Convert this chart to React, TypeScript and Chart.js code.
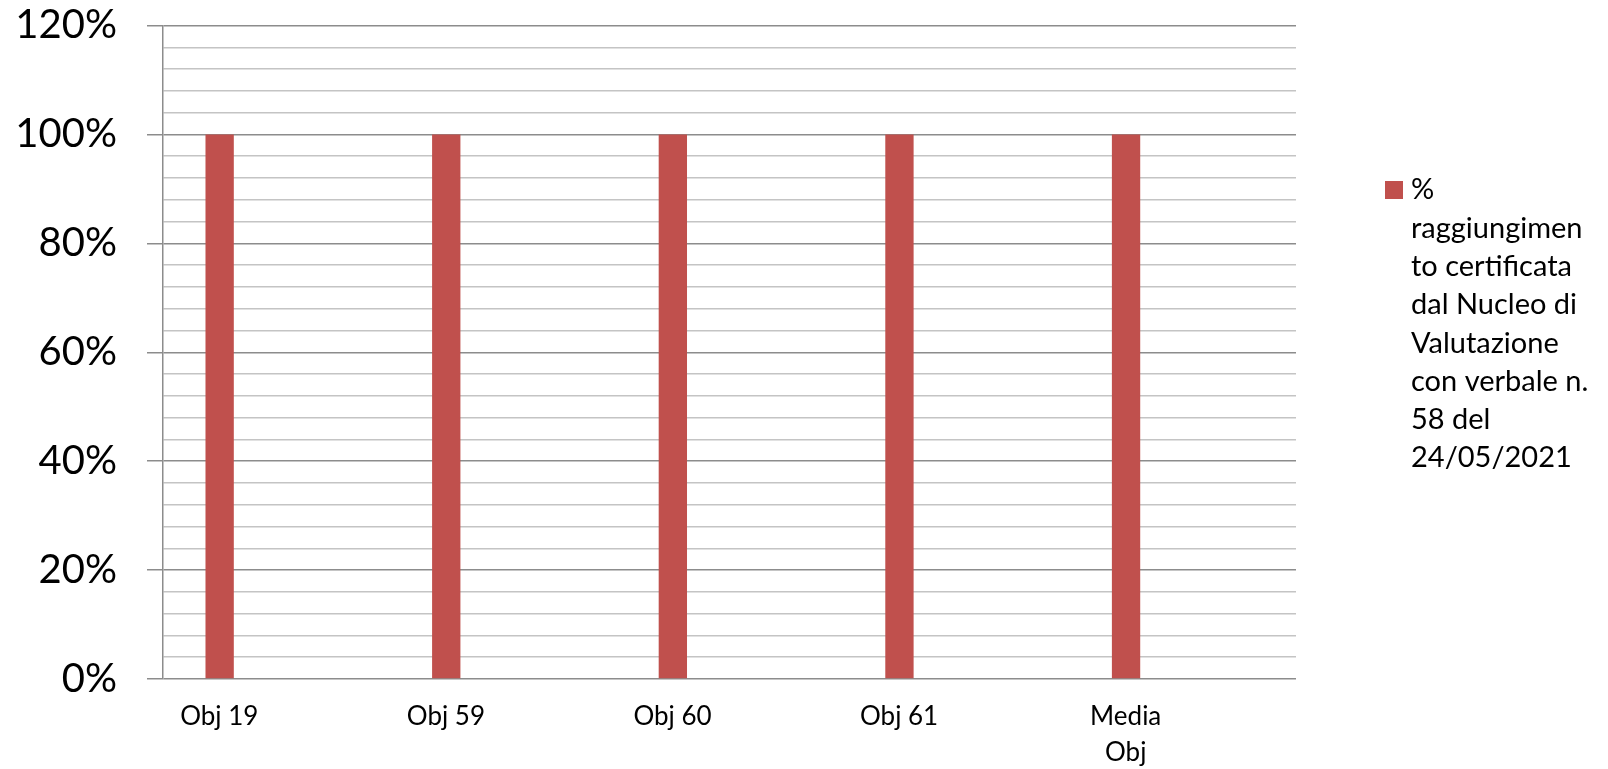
import React, { useEffect, useRef } from 'react';
import { Chart, registerables } from 'chart.js';

Chart.register(...registerables);

// ---- data ----
const categories: (string | string[])[] = ['Obj 19', 'Obj 59', 'Obj 60', 'Obj 61', ['Media', 'Obj']];
const raggiungimento: number[] = [100, 100, 100, 100, 100];
const legendLines: string[] = [
  '%',
  'raggiungimen',
  'to certificata',
  'dal Nucleo di',
  'Valutazione',
  'con verbale n.',
  '58 del',
  '24/05/2021',
];
const yMajorTicks: number[] = [0, 20, 40, 60, 80, 100, 120];
// empty companion series (the chart was built with 5 series per category, only the first filled)
const emptySeries: (number | null)[] = [null, null, null, null, null];

const BAR_COLOR = '#C0504D';
const MAJOR_GRID = '#8c8c8c';
const MINOR_GRID = '#c4c4c4';
const FONT = 'Lato';

const legendPlugin = {
  id: 'sideLegend',
  afterDraw(chart: any) {
    const ctx = chart.ctx as CanvasRenderingContext2D;
    const x = chart.chartArea.right + 89;
    const y0 = 190;
    const lh = 38.3;
    ctx.save();
    ctx.fillStyle = BAR_COLOR;
    ctx.fillRect(x, y0 - 9, 18, 18);
    ctx.fillStyle = '#000';
    ctx.font = `29px ${FONT}`;
    ctx.textBaseline = 'middle';
    ctx.textAlign = 'left';
    legendLines.forEach((line, i) => {
      ctx.fillText(line, x + 26, y0 + i * lh);
    });
    ctx.restore();
  },
};

export default function App() {
  const canvasRef = useRef<HTMLCanvasElement | null>(null);

  useEffect(() => {
    document.body.style.margin = '0';
    let chart: Chart | null = null;
    let cancelled = false;

    const build = () => {
      if (cancelled || !canvasRef.current) return;
      const datasets: any[] = [
        {
          label: legendLines.join(' '),
          data: raggiungimento,
          backgroundColor: BAR_COLOR,
          borderWidth: 0,
          categoryPercentage: 0.625,
          barPercentage: 1,
        },
      ];
      for (let i = 0; i < 4; i++) {
        datasets.push({
          label: '',
          data: emptySeries,
          backgroundColor: 'transparent',
          categoryPercentage: 0.625,
          barPercentage: 1,
        });
      }
      chart = new Chart(canvasRef.current, {
        type: 'bar',
        data: { labels: categories as any, datasets },
        plugins: [legendPlugin],
        options: {
          animation: false,
          responsive: false,
          maintainAspectRatio: false,
          layout: { padding: { top: 25.5, right: 312, left: 0, bottom: 0 } },
          plugins: {
            legend: { display: false },
            tooltip: { enabled: false },
          },
          scales: {
            x: {
              grid: { display: false, drawTicks: false },
              border: { display: false },
              ticks: {
                color: '#000',
                padding: 20,
                labelOffset: -57,
                maxRotation: 0,
                autoSkip: false,
                font: { family: FONT, size: 26, lineHeight: 1.385 },
              },
              afterFit: (scale: any) => {
                scale.height = 90;
              },
            },
            y: {
              min: 0,
              max: 120,
              border: { display: true, color: MAJOR_GRID, width: 1.5 },
              grid: {
                lineWidth: 1.5,
                tickLength: 16,
                color: (c: any) => (yMajorTicks.includes(c.tick?.value) ? MAJOR_GRID : MINOR_GRID),
                tickColor: (c: any) => (yMajorTicks.includes(c.tick?.value) ? MAJOR_GRID : 'rgba(0,0,0,0)'),
              },
              ticks: {
                stepSize: 4,
                autoSkip: false,
                padding: 30,
                color: '#000',
                font: { family: FONT, size: 40 },
                callback: (v: any) => (yMajorTicks.includes(Number(v)) ? `${v}%` : ''),
              },
              afterFit: (scale: any) => {
                scale.width = 163;
                scale.paddingTop = 0;
                scale.paddingBottom = 0;
              },
            },
          },
        },
      });
    };

    const fontsReady = (document as any).fonts
      ? Promise.all([
          (document as any).fonts.load(`40px ${FONT}`),
          (document as any).fonts.load(`26px ${FONT}`),
        ]).catch(() => null)
      : Promise.resolve();
    fontsReady.then(build);

    return () => {
      cancelled = true;
      if (chart) chart.destroy();
    };
  }, []);

  return (
    <div style={{ width: 1608, height: 769, position: 'relative' }}>
      <canvas ref={canvasRef} width={1608} height={769} style={{ display: 'block' }} />
    </div>
  );
}
